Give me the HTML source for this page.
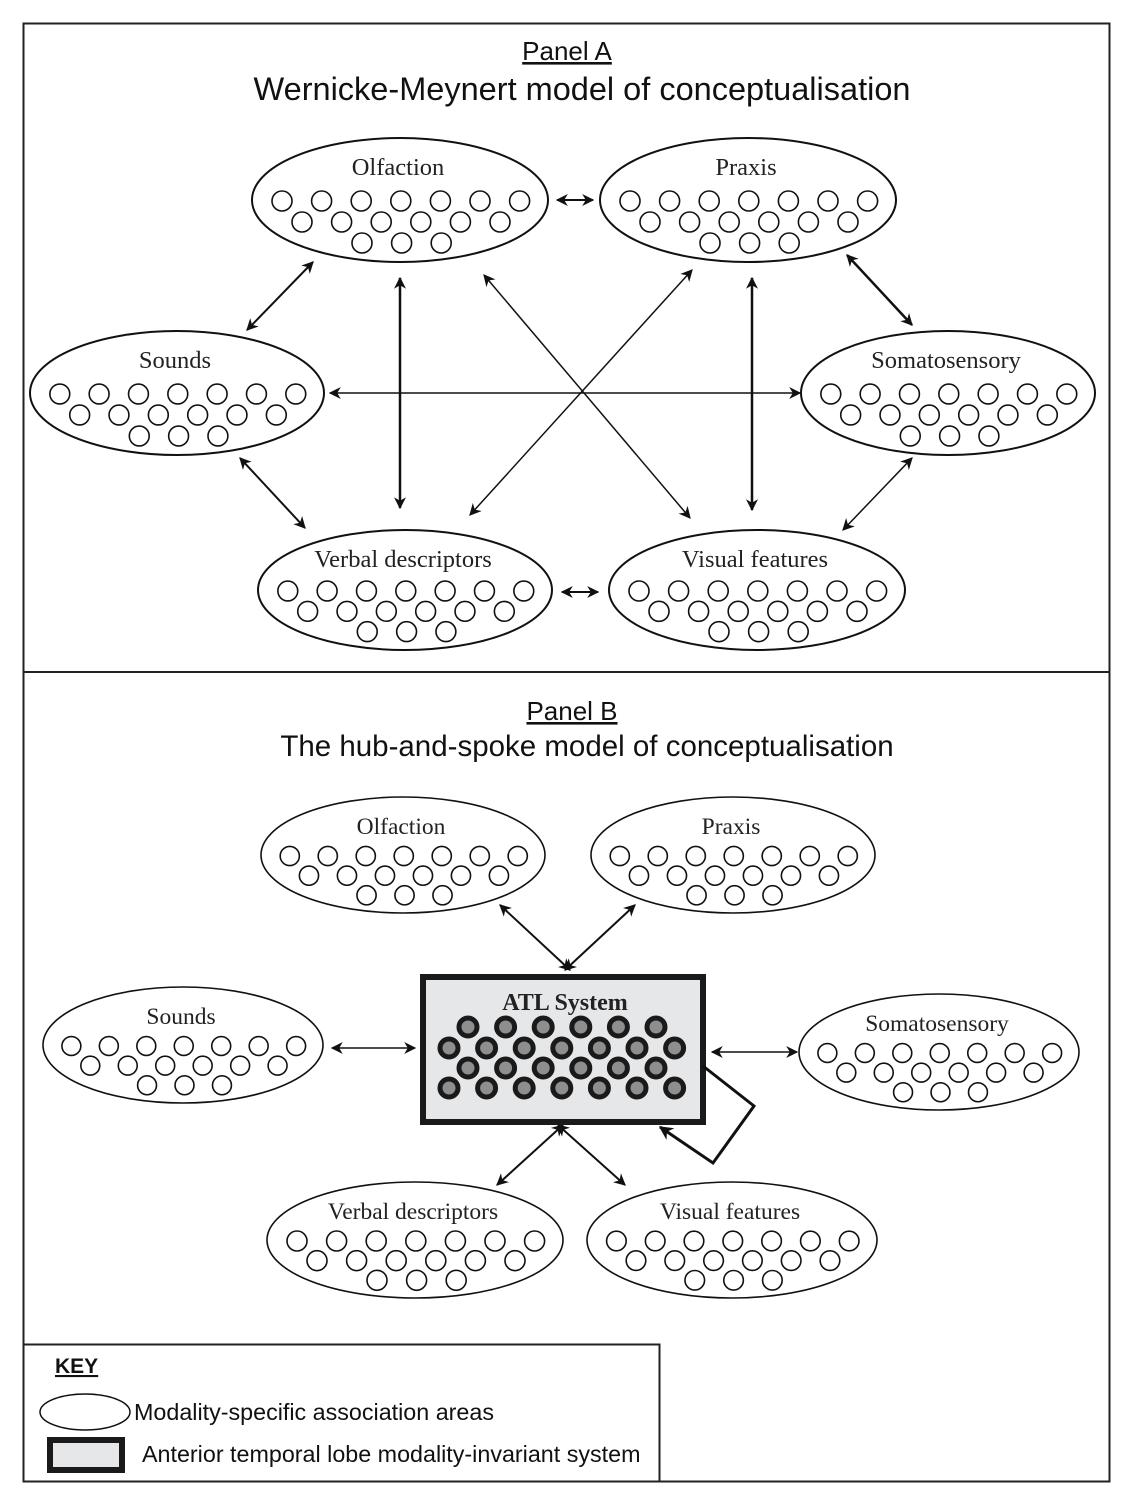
<!DOCTYPE html>
<html><head><meta charset="utf-8"><style>
html,body{margin:0;padding:0;background:#fff}
svg{display:block}
.serif{font-family:"Liberation Serif",serif}
.sans{font-family:"Liberation Sans",sans-serif}
</style></head><body>
<svg id="fig" width="1130" height="1510" viewBox="0 0 1130 1510" xmlns="http://www.w3.org/2000/svg">
<defs>
<marker id="ah" viewBox="0 0 10 10" refX="9" refY="5" markerWidth="12" markerHeight="12" orient="auto-start-reverse" markerUnits="userSpaceOnUse">
<path d="M0,0 L10,5 L0,10 L3,5 z" fill="#111"/></marker>
<marker id="ahb" viewBox="0 0 10 10" refX="9" refY="5" markerWidth="14" markerHeight="14" orient="auto-start-reverse" markerUnits="userSpaceOnUse">
<path d="M0,0 L10,5 L0,10 L3,5 z" fill="#111"/></marker>
</defs>
<rect x="23.5" y="23.5" width="1086" height="1458" fill="none" stroke="#222" stroke-width="2"/>
<line x1="23" y1="672" x2="1110" y2="672" stroke="#222" stroke-width="2"/>
<g class="sans" text-anchor="middle" fill="#111">
<text x="567" y="60" font-size="26" text-decoration="underline">Panel A</text>
<text x="582" y="100" font-size="32.5">Wernicke-Meynert model of conceptualisation</text>
<text x="572" y="720" font-size="26" text-decoration="underline">Panel B</text>
<text x="587" y="756" font-size="29.5">The hub-and-spoke model of conceptualisation</text>
</g>
<g id="arrows" stroke="#111" fill="none"></g>
<g id="ellipses"></g>
<g>
<rect x="423" y="977" width="280" height="145" fill="#e6e7e9" stroke="#1a1a1a" stroke-width="6"/>
<text x="565" y="1010" class="serif" font-size="24" font-weight="bold" text-anchor="middle" fill="#222">ATL System</text>
<g id="atlnodes"></g>
</g>
<polyline points="703,1066 754,1106 713,1163 660,1127" fill="none" stroke="#111" stroke-width="3" marker-end="url(#ahb)"/>
<g>
<rect x="23.5" y="1344.5" width="636" height="137" fill="#fff" stroke="#222" stroke-width="2"/>
<text x="55" y="1373" class="sans" font-size="21" font-weight="bold" text-decoration="underline" fill="#111">KEY</text>
<ellipse cx="85" cy="1412" rx="45" ry="18" fill="#fff" stroke="#111" stroke-width="1.5"/>
<text x="134" y="1420" class="sans" font-size="23.3" fill="#111">Modality-specific association areas</text>
<rect x="50" y="1440" width="72" height="30" fill="#e6e7e9" stroke="#1a1a1a" stroke-width="6"/>
<text x="142" y="1462" class="sans" font-size="23.3" fill="#111">Anterior temporal lobe modality-invariant system</text>
</g>
</svg>
<script>
const NS="http://www.w3.org/2000/svg";
const ellipseNames=["Olfaction","Praxis","Sounds","Somatosensory","Verbal descriptors","Visual features","Olfaction","Praxis","Sounds","Somatosensory","Verbal descriptors","Visual features"];
const ellipseCx=[400,748,177,948,405,757,403,733,183,939,415,732];
const ellipseCy=[200,200,393,393,590,590,855,855,1045,1052,1240,1240];
const ellipseRx=[148,148,147,147,147,148,142,142,140,140,148,145];
const ellipseRy=[62,62,62,62,60,60,58,58,58,58,58,58];
const ellipsePanel=["a","a","a","a","a","a","b","b","b","b","b","b"];
function mk(tag,attrs,parent){const e=document.createElementNS(NS,tag);for(const k in attrs)e.setAttribute(k,attrs[k]);parent.appendChild(e);return e;}
const eg=document.getElementById("ellipses");
for(let i=0;i<ellipseNames.length;i++){
  const g=mk("g",{},eg);
  
  
  const cx=ellipseCx[i],cy=ellipseCy[i],rx=ellipseRx[i],ry=ellipseRy[i];
  mk("ellipse",{cx:cx,cy:cy,rx:rx,ry:ry,fill:"#fff",stroke:"#111","stroke-width":ellipsePanel[i]=="a"?2:1.6},g);
  const t=mk("text",{x:cx-2,y:cy-ry+37,"text-anchor":"middle","font-size":ellipsePanel[i]=="a"?24.5:23.5,"class":"serif",fill:"#222"},g);
  t.textContent=ellipseNames[i];
  
  
  const s=rx/148*39.6, r=rx/148*10, top=cy+1, dy=21*ry/62;
  for(let k=0;k<7;k++) mk("circle",{cx:cx-118*rx/148+k*s,cy:top,r:r,fill:"#fff",stroke:"#111","stroke-width":1.6},g);
  for(let k=0;k<6;k++) mk("circle",{cx:cx-98*rx/148+k*s,cy:top+dy,r:r,fill:"#fff",stroke:"#111","stroke-width":1.6},g);
  for(let k=0;k<3;k++) mk("circle",{cx:cx-38*rx/148+k*s,cy:top+2*dy,r:r,fill:"#fff",stroke:"#111","stroke-width":1.6},g);
}
const an=document.getElementById("atlnodes");
const rowsY=[1027,1048,1068,1088];
for(let r=0;r<4;r++){const n=r%2==0?6:7,x0=r%2==0?468:449;
  for(let k=0;k<n;k++){const c=mk("circle",{cx:x0+k*37.6,cy:rowsY[r],r:9,fill:"#8e8e8e",stroke:"#1a1a1a","stroke-width":5},an);
    
    }}
const arrowX1=[557,313,847,330,400,752,484,692,240,912,562, 500,635,332,712,497,625];
const arrowY1=[200,262,255,393,278,278,275,270,458,458,592, 905,905,1048,1052,1185,1185];
const arrowX2=[593,247,912,800,400,752,690,470,305,843,598, 570,565,415,797,563,558];
const arrowY2=[200,330,325,393,508,510,518,515,528,530,592, 970,970,1048,1052,1125,1125];
const arrowW=[2,2,2.5,1.5,2.5,2.5,1.5,1.5,2,1.5,2, 2,2,1.5,1.5,2,2];
const ag=document.getElementById("arrows");
for(let i=0;i<arrowX1.length;i++){
  const l=mk("line",{x1:arrowX1[i],y1:arrowY1[i],x2:arrowX2[i],y2:arrowY2[i],"stroke-width":arrowW[i],"marker-start":"url(#ah)","marker-end":"url(#ah)"},ag);
  
  
}
</script>
</body></html>
